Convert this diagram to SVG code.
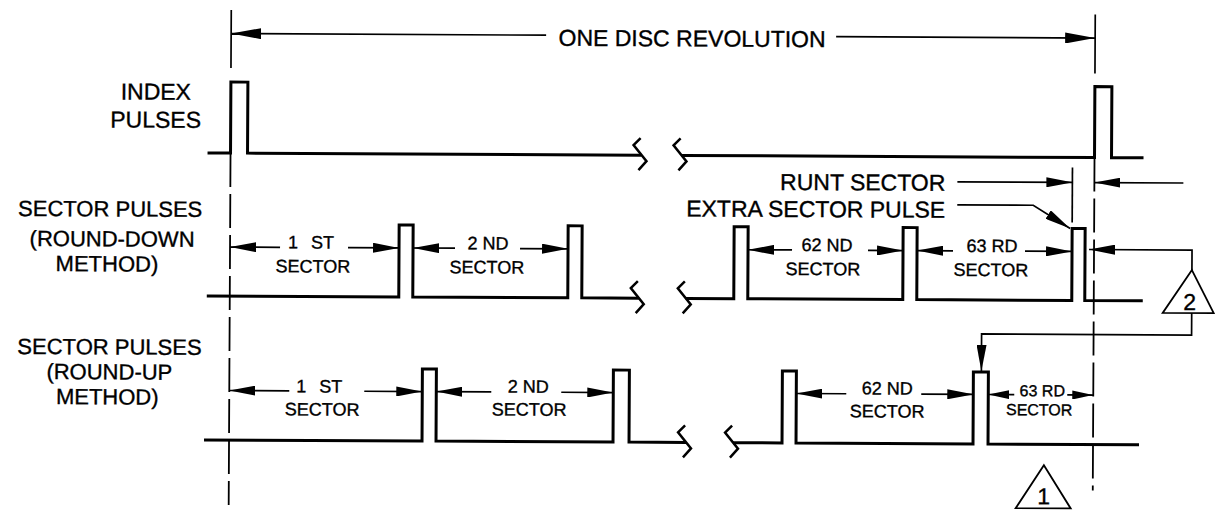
<svg xmlns="http://www.w3.org/2000/svg" width="1215" height="510" viewBox="0 0 1215 510">
<style>
text{font-family:"Liberation Sans",Arial,Helvetica,sans-serif;fill:#000;stroke:#000;stroke-width:0.35}
.big{font-size:23px}
.lbl{font-size:22px}
.sm{font-size:18px}
.xs{font-size:16px}
.mid{text-anchor:middle}
.end{text-anchor:end}
.wave{fill:none;stroke:#000;stroke-width:3;stroke-linejoin:miter}
.brk{fill:none;stroke:#000;stroke-width:2.5}
.dim{fill:none;stroke:#000;stroke-width:1.7}
.dash{fill:none;stroke:#000;stroke-width:1.8;stroke-dasharray:34 7}
.tri{fill:#fff;stroke:#000;stroke-width:1.8}
</style>
<defs>
<marker id="ah" markerUnits="userSpaceOnUse" markerWidth="26" markerHeight="10" viewBox="0 0 26 10" refX="26" refY="5" orient="auto"><path d="M0,0 L26,5 L0,10 Z" fill="#000"/></marker>
<marker id="ahs" markerUnits="userSpaceOnUse" markerWidth="21" markerHeight="9" viewBox="0 0 21 9" refX="21" refY="4.5" orient="auto"><path d="M0,0 L21,4.5 L0,9 Z" fill="#000"/></marker>
<marker id="ahb" markerUnits="userSpaceOnUse" markerWidth="30" markerHeight="11" viewBox="0 0 30 11" refX="30" refY="5.5" orient="auto"><path d="M0,0 L30,5.5 L0,11 Z" fill="#000"/></marker>
</defs>
<rect width="1215" height="510" fill="#fff"/>
<g transform="rotate(0.3 607 255)">
<g id="reference-lines">
<path class="dim" d="M230,12 V70 M1094,12 V71"/>
<path class="dash" d="M230,155 V507"/>
<path class="dash" d="M1094,155 V488"/>
<path class="dim" d="M1072,165 V220"/>
</g>
<g id="title">
<text class="big mid" x="691" y="46">ONE DISC REVOLUTION</text>
</g>
<g id="index-pulses">
<text class="big mid" x="155" y="102">INDEX</text>
<text class="big mid" x="155" y="130">PULSES</text>
<path class="wave" d="M207,155 H230 V84 H247 V155 H641"/>
<path class="brk" d="M640,138 L633,145 L646,161 L638,170"/>
<path class="brk" d="M680,138 L673,145 L686,161 L678,170"/>
<path class="wave" d="M681,155 H1094 V84 H1111 V155 H1143"/>
</g>
<g id="round-down">
<text class="lbl mid" x="110" y="219">SECTOR PULSES</text>
<text class="lbl mid" x="112" y="249">(ROUND-DOWN</text>
<text class="lbl mid" x="107" y="274">METHOD)</text>
<path class="wave" d="M207,298 H399 V226 H413 V298 H568 V226 H582 V298 H639"/>
<path class="brk" d="M638,281 L631,288 L644,304 L636,313"/>
<path class="brk" d="M685,281 L678,288 L691,304 L683,313"/>
<path class="wave" d="M686,298 H734 V226 H748 V298 H903 V226 H917 V298 H1072 V226 H1085 V298 H1143"/>
<text class="sm mid" x="311" y="250" word-spacing="8">1 ST</text>
<text class="sm mid" x="313" y="274">SECTOR</text>
<text class="sm mid" x="488" y="250">2 ND</text>
<text class="sm mid" x="487" y="274">SECTOR</text>
<text class="sm mid" x="827" y="250">62 ND</text>
<text class="sm mid" x="823" y="274">SECTOR</text>
<text class="sm mid" x="992" y="250">63 RD</text>
<text class="sm mid" x="991" y="274">SECTOR</text>
<text class="big end" x="945" y="189">RUNT SECTOR</text>
<text class="big end" x="945" y="216">EXTRA SECTOR PULSE</text>
</g>
<g id="round-up">
<text class="lbl mid" x="110" y="357">SECTOR PULSES</text>
<text class="lbl mid" x="110" y="382">(ROUND-UP</text>
<text class="lbl mid" x="108" y="407">METHOD)</text>
<path class="wave" d="M205,442 H423 V370 H437 V442 H614 V370 H630 V442 H687"/>
<path class="brk" d="M686,425 L679,432 L692,448 L684,457"/>
<path class="brk" d="M733,425 L726,432 L739,448 L731,457"/>
<path class="wave" d="M734,442 H783 V370 H797 V442 H974 V370 H989 V442 H1140"/>
<text class="sm mid" x="320" y="394" word-spacing="8">1 ST</text>
<text class="sm mid" x="323" y="417">SECTOR</text>
<text class="sm mid" x="529" y="393">2 ND</text>
<text class="sm mid" x="530" y="416">SECTOR</text>
<text class="sm mid" x="888" y="393">62 ND</text>
<text class="sm mid" x="888" y="416">SECTOR</text>
<text class="xs mid" x="1043" y="394">63 RD</text>
<text class="xs mid" x="1040" y="413">SECTOR</text>
</g>
<g id="note-2">
<path class="tri" d="M1192,267 L1214,310 L1163,310 Z"/>
<text class="big mid" x="1190" y="307">2</text>
</g>
<g id="note-1">
<path class="tri" d="M1045,463 L1072,506 L1017,506 Z"/>
<text class="big mid" x="1045" y="502">1</text>
</g>
<g id="connectors">
<line class="dim" x1="545" y1="35.5" x2="230" y2="35.5" marker-end="url(#ahb)"/>
<line class="dim" x1="835" y1="35.5" x2="1094" y2="35.5" marker-end="url(#ahb)"/>
<line class="dim" x1="280" y1="249" x2="230" y2="249" marker-end="url(#ah)"/>
<line class="dim" x1="348" y1="249" x2="399" y2="249" marker-end="url(#ah)"/>
<line class="dim" x1="455" y1="249" x2="413" y2="249" marker-end="url(#ah)"/>
<line class="dim" x1="520" y1="249" x2="568" y2="249" marker-end="url(#ah)"/>
<line class="dim" x1="792" y1="249" x2="748" y2="249" marker-end="url(#ah)"/>
<line class="dim" x1="868" y1="249" x2="903" y2="249" marker-end="url(#ah)"/>
<line class="dim" x1="953" y1="249" x2="917" y2="249" marker-end="url(#ah)"/>
<line class="dim" x1="1025" y1="249" x2="1072" y2="249" marker-end="url(#ah)"/>
<line class="dim" x1="957" y1="180" x2="1072" y2="180" marker-end="url(#ah)"/>
<line class="dim" x1="1183" y1="180" x2="1094" y2="180" marker-end="url(#ah)"/>
<path class="dim" d="M957,203 H1033 L1070,226" marker-end="url(#ah)"/>
<path class="dim" d="M1192,267 V247 H1089" marker-end="url(#ah)"/>
<path class="dim" d="M1192,310 V332 H982 V369" marker-end="url(#ah)"/>
<line class="dim" x1="290" y1="392.5" x2="230" y2="392.5" marker-end="url(#ah)"/>
<line class="dim" x1="365" y1="392.5" x2="423" y2="392.5" marker-end="url(#ah)"/>
<line class="dim" x1="492" y1="392.5" x2="437" y2="392.5" marker-end="url(#ah)"/>
<line class="dim" x1="562" y1="392.5" x2="614" y2="392.5" marker-end="url(#ah)"/>
<line class="dim" x1="847" y1="392.5" x2="797" y2="392.5" marker-end="url(#ah)"/>
<line class="dim" x1="922" y1="392.5" x2="974" y2="392.5" marker-end="url(#ah)"/>
<line class="dim" x1="1015" y1="392.5" x2="989" y2="392.5" marker-end="url(#ahs)"/>
<line class="dim" x1="1068" y1="392.5" x2="1094" y2="392.5" marker-end="url(#ahs)"/>
</g>
</g>
</svg>
